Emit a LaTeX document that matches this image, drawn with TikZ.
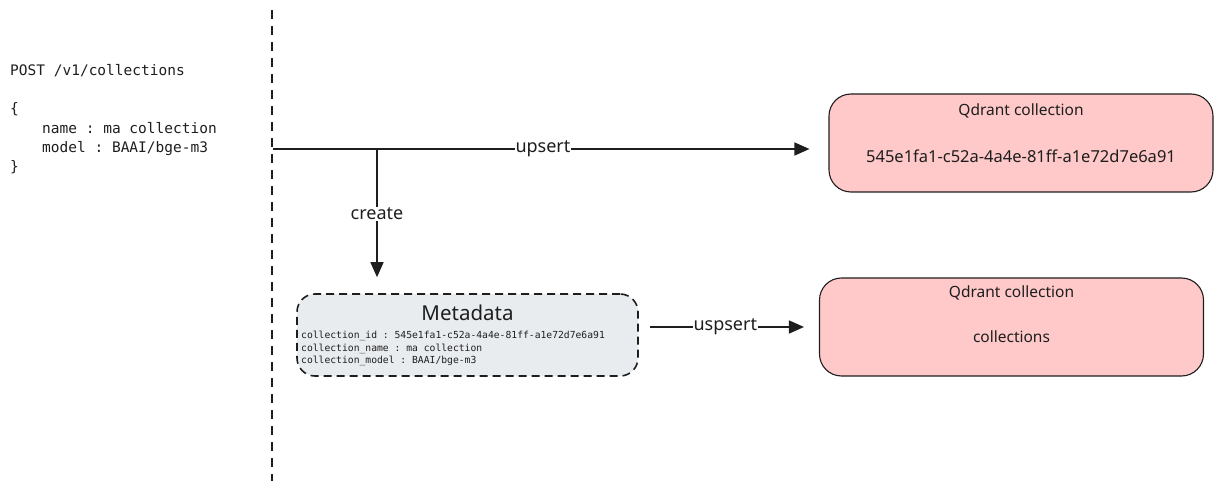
\documentclass[tikz,border=0pt]{standalone}
\usepackage{fontspec}
\setsansfont{Noto Sans}
\setmonofont{DejaVu Sans Mono}
\usetikzlibrary{arrows.meta}
\definecolor{ink}{HTML}{1E1E1E}
\definecolor{qpink}{HTML}{FFC9C9}
\definecolor{mgrey}{HTML}{E9ECEF}
\tikzset{
  qbox/.style={draw=ink, line width=1.1pt, fill=qpink, rounded corners=22pt,
    minimum width=384pt, minimum height=98pt, inner sep=0pt},
  metabox/.style={draw=ink, line width=1.6pt, dash pattern=on 8pt off 5pt, fill=mgrey,
    rounded corners=18pt, minimum width=341pt, minimum height=82pt, inner sep=0pt},
  boxtxt/.style={text=ink, font=\sffamily\fontsize{15.5}{18}\selectfont, inner sep=0pt},
  uuidtxt/.style={text=ink, font=\sffamily\fontsize{16.5}{20}\selectfont, inner sep=0pt},
  codetxt/.style={text=ink, font=\ttfamily\fontsize{14.5}{17}\selectfont, anchor=base west, inner sep=0pt},
  smallcode/.style={text=ink, font=\ttfamily\fontsize{9.7}{11}\selectfont, anchor=base west, inner sep=0pt},
  lbl/.style={text=ink, font=\sffamily\fontsize{18}{21}\selectfont, fill=white, inner xsep=0.5pt, inner ysep=1pt},
  flow/.style={draw=ink, line width=1.5pt, -{Triangle[length=15pt,width=13pt]}},
  divider/.style={draw=ink, line width=2pt, dash pattern=on 9pt off 7pt},
}
\begin{document}
\begin{tikzpicture}[x=1pt,y=-1pt]
\useasboundingbox (0,0) rectangle (1223,489);

% left request text
\node[codetxt] (post) at (10,76) {POST /v1/collections};
\node[codetxt] (ob) at (10,114) {\{};
\node[codetxt] (nm) at (42,134) {name : ma collection};
\node[codetxt] (md) at (42,153) {model : BAAI/bge-m3};
\node[codetxt] (cb) at (10,172) {\}};

% divider
\coordinate (dtop) at (272,10);
\coordinate (dbot) at (272,481);
\draw[divider] (dtop) -- (dbot);

% boxes
\node[qbox] (q1) at (1021,143) {};
\node[boxtxt] (q1t) at (1021,111) {Qdrant collection};
\node[uuidtxt] (q1u) at (1021,156) {545e1fa1-c52a-4a4e-81ff-a1e72d7e6a91};

\node[qbox] (q2) at (1011.5,327) {};
\node[boxtxt] (q2t) at (1011.5,293) {Qdrant collection};
\node[boxtxt] (q2u) at (1011.5,337) {collections};

\node[metabox] (meta) at (467.5,335) {};
\node[text=ink, font=\sffamily\fontsize{20.5}{24}\selectfont, inner sep=0pt] (metat) at (467.5,313) {Metadata};
\node[smallcode] (mid) at (301,338.5) {collection\_id : 545e1fa1-c52a-4a4e-81ff-a1e72d7e6a91};
\node[smallcode] (mname) at (301,351) {collection\_name : ma collection};
\node[smallcode] (mmodel) at (301,363.5) {collection\_model : BAAI/bge-m3};

% connectors
\coordinate (src) at (273,149);
\coordinate (br) at (377,149);
\draw[flow, shorten >=19pt] (src) -- (q1.west |- src) node[lbl, pos=0.486] (lup) {upsert};
\draw[flow, shorten >=16pt] (br) -- (br |- meta.north) node[lbl, pos=0.45] (lcr) {create};
\draw[flow, shorten <=11pt, shorten >=15pt] (meta.east |- q2.west) -- (q2.west) node[lbl, pos=0.48] (lus) {uspsert};
\end{tikzpicture}
\end{document}
